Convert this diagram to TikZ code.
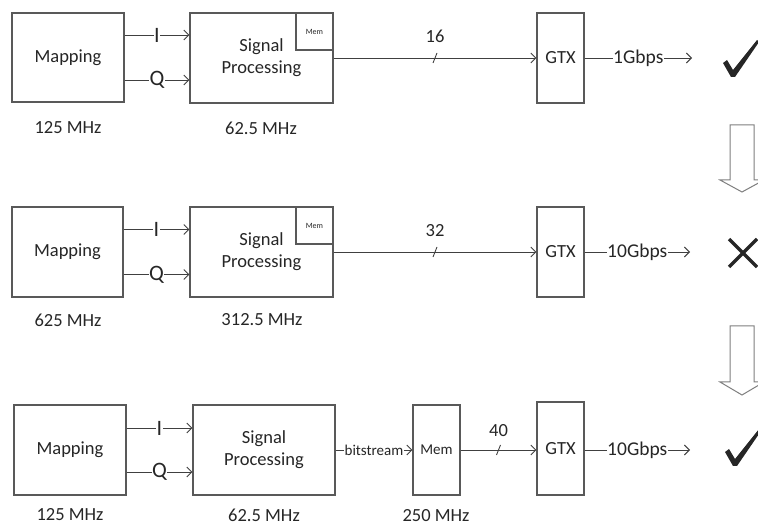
\documentclass[tikz,border=0pt]{standalone}
\usepackage{fontspec}
\setmainfont{Carlito}
\usetikzlibrary{arrows.meta,calc}
\definecolor{boxc}{HTML}{595959}
\definecolor{linec}{HTML}{404040}
\definecolor{txtc}{HTML}{262626}
\definecolor{arrc}{HTML}{7F7F7F}
\begin{document}
\begin{tikzpicture}[x=1pt,y=-1pt,
  blk/.style={draw=boxc, line width=1.1pt, fill=white, inner sep=0pt, text=txtc,
    font=\fontsize{18.5}{22}\selectfont, align=center},
  memsm/.style={draw=boxc, line width=1.1pt, fill=white, inner sep=0pt, text=txtc,
    font=\fontsize{8}{9}\selectfont, minimum width=37pt, minimum height=37pt},
  conn/.style={draw=linec, line width=0.9pt, -{Straight Barb[length=5pt,width=10pt]}},
  bus/.style={draw=linec, line width=0.9pt, -{Straight Barb[length=5pt,width=10pt]}},
  lbl/.style={text=txtc, font=\fontsize{18.5}{22}\selectfont, inner sep=0pt},
  iq/.style={fill=white, inner sep=0.5pt, text=txtc, font=\fontsize{22}{24}\selectfont},
  rate/.style={fill=white, inner sep=0.5pt, text=txtc, font=\fontsize{19.5}{22}\selectfont},
  slashmark/.style={draw=linec, line width=0.9pt},
  blockarrow/.style={draw=arrc, fill=white, line width=1pt},
  checkfill/.style={fill=txtc, draw=none}
]
\useasboundingbox (0,0) rectangle (758,526);
\clip (0,0) rectangle (758,526);

% ---------- Row 1 ----------
\node[blk, minimum width=112pt, minimum height=89pt] (map1) at (68,57.5) {Mapping};
\node[blk, minimum width=143pt, minimum height=90pt] (sp1) at (261.5,58) {Signal\\Processing};
\node[memsm, anchor=north east] (mem1) at (sp1.north east) {Mem};
\node[blk, minimum width=47pt, minimum height=90pt] (gtx1) at (560.5,58) {GTX};
\node[lbl] (f11) at (68,128) {125 MHz};
\node[lbl] (f12) at (261,128) {62.5 MHz};
\coordinate (i1) at ([yshift=22.5pt]map1.east);
\coordinate (q1) at ([yshift=-22.5pt]map1.east);
\draw[conn] (i1) -- (i1 -| sp1.west) node[midway, iq] {I};
\draw[conn] (q1) -- (q1 -| sp1.west) node[midway, iq] {Q};
\draw[bus] (sp1.east) -- (sp1.east -| gtx1.west)
  node[midway, lbl, above=15pt] (b1) {16} coordinate[midway] (s1);
\draw[slashmark] ($(s1)+(-2,5)$) -- ($(s1)+(2,-5)$);
\coordinate (o1) at (692,58);
\draw[conn] (gtx1.east) -- (o1) node[midway, rate] {1Gbps};
\fill[checkfill, shift={(734,76)}] (-11,-13) -- (-7,-16) -- (-1,-6) -- (23,-36) -- (25,-34) -- (1,1) -- (-3,1) -- cycle;

% block arrow 1
\draw[blockarrow] (730,125) -- (754,125) -- (754,180) -- (764,180) -- (742,192) -- (720,180) -- (730,180) -- cycle;

% ---------- Row 2 ----------
\node[blk, minimum width=111pt, minimum height=90pt] (map2) at (67.5,252) {Mapping};
\node[blk, minimum width=143pt, minimum height=90pt] (sp2) at (261.5,252) {Signal\\Processing};
\node[memsm, anchor=north east] (mem2) at (sp2.north east) {Mem};
\node[blk, minimum width=47pt, minimum height=90pt] (gtx2) at (560.5,252) {GTX};
\node[lbl] (f21) at (68,320) {625 MHz};
\node[lbl] (f22) at (262,320) {312.5 MHz};
\coordinate (i2) at ([yshift=22.5pt]map2.east);
\coordinate (q2) at ([yshift=-22.5pt]map2.east);
\draw[conn] (i2) -- (i2 -| sp2.west) node[midway, iq] {I};
\draw[conn] (q2) -- (q2 -| sp2.west) node[midway, iq] {Q};
\draw[bus] (sp2.east) -- (sp2.east -| gtx2.west)
  node[midway, lbl, above=15pt] (b2) {32} coordinate[midway] (s2);
\draw[slashmark] ($(s2)+(-2,5)$) -- ($(s2)+(2,-5)$);
\coordinate (o2) at (690,252);
\draw[conn] (gtx2.east) -- (o2) node[midway, rate] {10Gbps};
\draw[txtc, line width=3.5pt] (729,239) -- (757,267);
\draw[txtc, line width=3.5pt] (757,239) -- (729,267);

% block arrow 2
\draw[blockarrow] (730,326) -- (754,326) -- (754,382) -- (764,382) -- (742,395) -- (720,382) -- (730,382) -- cycle;

% ---------- Row 3 ----------
\node[blk, minimum width=112pt, minimum height=90pt] (map3) at (70,450) {Mapping};
\node[blk, minimum width=142pt, minimum height=90pt] (sp3) at (264,450) {Signal\\Processing};
\node[blk, minimum width=47pt, minimum height=90pt, font=\fontsize{15}{17}\selectfont] (memb) at (436.5,450) {Mem};
\node[blk, minimum width=47pt, minimum height=93pt] (gtx3) at (560.5,448.5) {GTX};
\node[lbl] (f31) at (70,515) {125 MHz};
\node[lbl] (f32) at (264,515) {62.5 MHz};
\node[lbl] (f33) at (436,515.5) {250 MHz};
\coordinate (i3) at ([yshift=22pt]map3.east);
\coordinate (q3) at ([yshift=-22pt]map3.east);
\draw[conn] (i3) -- (i3 -| sp3.west) node[midway, iq] {I};
\draw[conn] (q3) -- (q3 -| sp3.west) node[midway, iq] {Q};
\draw[conn] (sp3.east) -- (memb.west)
  node[midway, fill=white, inner sep=0.5pt, text=txtc, font=\fontsize{15}{17}\selectfont] {bitstream};
\draw[bus] (memb.east) -- (memb.east -| gtx3.west)
  node[midway, lbl, above=13pt] (b3) {40} coordinate[midway] (s3);
\draw[slashmark] ($(s3)+(-2,5)$) -- ($(s3)+(2,-5)$);
\coordinate (o3) at (690,450);
\draw[conn] (memb.east -| gtx3.east) -- (o3) node[midway, rate] {10Gbps};
\fill[checkfill, shift={(736,465)}] (-11,-13) -- (-7,-16) -- (-1,-6) -- (23,-36) -- (25,-34) -- (1,1) -- (-3,1) -- cycle;
\end{tikzpicture}
\end{document}
